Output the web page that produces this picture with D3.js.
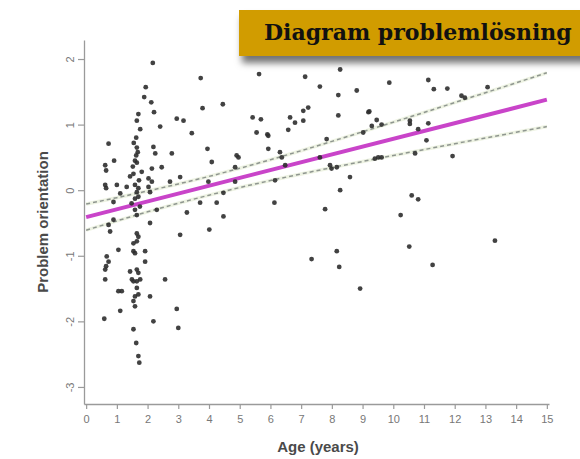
<!DOCTYPE html>
<html>
<head>
<meta charset="utf-8">
<script src="https://cdn.jsdelivr.net/npm/d3@7"></script>
<style>
html,body{margin:0;padding:0;background:#fff;}
svg{display:block;}
</style>
</head>
<body>
<svg id="chart" width="580" height="459"></svg>
<script>
// ---- data ----
const title = "Diagram problemlösning";
const xLabel = "Age (years)";
const yLabel = "Problem orientation";
const xTicks = [0,1,2,3,4,5,6,7,8,9,10,11,12,13,14,15];
const yTicks = [2,1,0,-1,-2,-3];

const ages = [
 2.17,1.94,1.89,2.12,2.21,1.70,2.95,3.17,1.65,2.41,1.76,1.63,1.65,1.63,1.65,0.73,2.19,2.25,2.79,0.91,
 1.59,2.46,0.62,0.65,2.14,1.54,1.43,1.81,3.06,2.03,2.14,2.73,0.62,0.65,1.00,1.32,1.59,1.70,1.65,2.03,
 2.08,1.11,1.59,1.70,0.89,2.30,3.28,1.59,1.65,1.55,1.68,1.52,1.72,1.48,1.75,
 0.89,0.73,0.78,2.08,3.06,1.65,1.70,1.65,1.54,1.05,1.54,1.59,1.92,1.92,0.67,0.73,0.65,0.62,1.43,1.65,
 1.70,0.62,1.49,1.54,1.65,1.76,2.57,1.16,1.05,1.65,1.70,1.59,2.08,1.54,1.59,1.11,2.95,0.59,2.19,3.00,
 1.54,1.63,1.70,1.73,
 3.73,5.63,7.13,8.27,7.61,8.21,8.81,4.45,3.79,3.44,5.42,5.69,6.64,6.80,7.07,7.07,7.23,8.21,9.19,6.58,
 5.55,5.90,5.93,3.95,5.93,4.90,4.96,6.31,6.37,4.09,4.85,6.48,7.83,7.61,7.94,8.16,7.99,8.59,8.27,3.98,
 4.85,6.15,4.47,3.71,4.25,6.13,4.47,4.01,7.78,8.16,7.34,8.24,8.92,
 9.87,11.14,11.32,11.76,13.07,12.22,12.33,9.22,9.46,9.30,9.02,9.62,10.54,10.54,10.81,11.14,11.08,9.40,9.51,9.62,
 10.71,11.93,10.60,10.81,10.24,10.52,13.31,11.28
];
const scores = [
 1.94,1.57,1.42,1.34,1.19,1.16,1.09,1.06,1.06,0.97,0.93,0.80,0.65,0.53,0.42,0.71,0.66,0.56,0.56,0.45,
 0.45,0.35,0.38,0.30,0.33,0.25,0.21,0.28,0.20,0.18,0.13,0.13,0.08,0.03,0.08,0.05,0.08,0.03,-0.03,0.05,
 -0.03,-0.05,-0.13,-0.10,-0.18,-0.30,-0.34,-0.30,-0.38,0.72,0.58,0.36,0.15,-0.20,-0.25,
 -0.45,-0.53,-0.63,-0.50,-0.68,-0.66,-0.71,-0.78,-0.81,-0.91,-0.93,-0.96,-0.93,-1.09,-1.01,-1.09,-1.16,-1.21,-1.24,-1.21,
 -1.26,-1.36,-1.36,-1.39,-1.39,-1.36,-1.36,-1.54,-1.54,-1.49,-1.59,-1.62,-1.62,-1.69,-1.77,-1.84,-1.81,-1.96,-2.00,-2.10,
 -2.12,-2.33,-2.53,-2.63,
 1.71,1.77,1.73,1.84,1.58,1.45,1.52,1.31,1.25,0.87,1.11,1.08,1.11,1.03,1.06,1.21,1.26,1.14,1.19,0.92,
 0.88,0.85,0.83,0.63,0.63,0.53,0.50,0.58,0.50,0.43,0.35,0.38,0.78,0.50,0.38,0.35,0.33,0.20,0.00,0.13,
 0.13,0.15,-0.04,-0.19,-0.19,-0.19,-0.40,-0.60,-0.29,-0.93,-1.05,-1.17,-1.50,
 1.64,1.68,1.54,1.55,1.57,1.44,1.41,1.20,1.07,0.98,0.88,1.00,1.06,1.01,0.93,1.02,0.76,0.48,0.50,0.50,
 0.56,0.52,-0.08,-0.14,-0.38,-0.86,-0.77,-1.14
];

const fitAges = [0, 15];
const fitValues = [-0.41, 1.38];
const bandAges  = [0,1,2,3,4,5,6,7,8,9,10,11,12,13,14,15];
const bandUpper = [-0.21,-0.114,-0.012,0.095,0.21,0.334,0.465,0.602,0.744,0.89,1.037,1.185,1.336,1.486,1.637,1.79];
const bandLower = [-0.61,-0.468,-0.33,-0.199,-0.076,0.04,0.147,0.248,0.344,0.438,0.529,0.619,0.708,0.796,0.883,0.97];

// ---- drawing ----
const svg = d3.select("#chart");
const x = d3.scaleLinear().domain([-0.07, 15.07]).range([84, 549]);
const y = d3.scaleLinear().domain([-3.26, 2.29]).range([404, 40]);

const defs = svg.append("defs");
const f = defs.append("filter").attr("id","shadow").attr("x","-10%").attr("y","-30%").attr("width","130%").attr("height","180%");
f.append("feDropShadow").attr("dx",3).attr("dy",7).attr("stdDeviation",3.5)
 .attr("flood-color","#000").attr("flood-opacity",0.55);

// axes
const xAxis = svg.append("g").attr("transform","translate(0,404)")
  .call(d3.axisBottom(x).tickValues(xTicks).tickSize(5).tickSizeOuter(0).tickPadding(6));
const yAxis = svg.append("g").attr("transform","translate(84,0)")
  .call(d3.axisLeft(y).tickValues(yTicks).tickFormat(d => String(d)).tickSize(6).tickSizeOuter(0).tickPadding(0));
[xAxis,yAxis].forEach(g=>{
  g.select(".domain").attr("stroke","#9a9a9a").attr("stroke-width",1.3);
  g.selectAll(".tick line").attr("stroke","#9a9a9a").attr("stroke-width",1.2);
  g.selectAll(".tick text").attr("fill","#777").attr("font-family","Liberation Sans, Arial, sans-serif");
});
xAxis.selectAll(".tick text").attr("font-size",11);
yAxis.selectAll(".tick text").attr("font-size",11)
  .attr("text-anchor","middle")
  .attr("transform", "translate(-14,0) rotate(-90)")
  .attr("x",0).attr("dy","0.35em");

// axis titles
svg.append("text").attr("x",318).attr("y",452).attr("text-anchor","middle")
  .attr("font-family","Liberation Sans, Arial, sans-serif").attr("font-weight","bold")
  .attr("font-size",15).attr("fill","#4a4a4a").text(xLabel);
svg.append("text").attr("transform","translate(48,222) rotate(-90)").attr("text-anchor","middle")
  .attr("font-family","Liberation Sans, Arial, sans-serif").attr("font-weight","bold")
  .attr("font-size",15).attr("fill","#4a4a4a").text(yLabel);

// confidence bands
const bandLine = d3.line().x(d=>x(d[0])).y(d=>y(d[1])).curve(d3.curveMonotoneX);
[bandUpper, bandLower].forEach(arr=>{
  const pts = bandAges.map((a,i)=>[a, arr[i]]);
  svg.append("path").attr("d", bandLine(pts)).attr("fill","none")
    .attr("stroke","#eef3e3").attr("stroke-width",3.5);
  svg.append("path").attr("d", bandLine(pts)).attr("fill","none")
    .attr("stroke","#8f9690").attr("stroke-width",1.5).attr("stroke-dasharray","4,3");
});

// regression line
svg.append("path")
  .attr("d", d3.line().x(d=>x(d[0])).y(d=>y(d[1]))(fitAges.map((a,i)=>[a, fitValues[i]])))
  .attr("fill","none").attr("stroke","#c944c9").attr("stroke-width",4);

// points
svg.append("g").selectAll("circle").data(ages.map((a,i)=>[a, scores[i]])).join("circle")
  .attr("cx", d=>x(d[0])).attr("cy", d=>y(d[1])).attr("r",2.4)
  .attr("fill","#2e2e2e").attr("fill-opacity",0.9);

// title box
svg.append("rect").attr("x",239).attr("y",10).attr("width",350).attr("height",46)
  .attr("fill","#d19c00").attr("filter","url(#shadow)");
svg.append("text").attr("x",264).attr("y",40)
  .attr("font-family","DejaVu Serif, serif").attr("font-weight","bold")
  .attr("font-size",22).attr("fill","#111").text(title);
</script>
</body>
</html>
